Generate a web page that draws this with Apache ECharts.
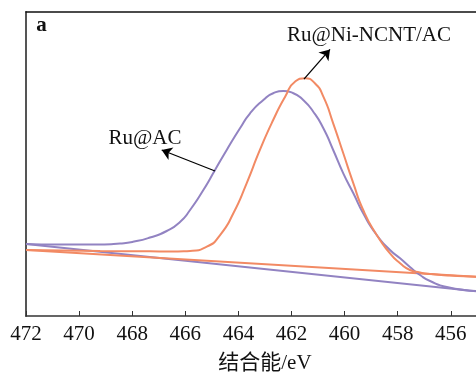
<!DOCTYPE html>
<html>
<head>
<meta charset="utf-8">
<script src="https://cdn.jsdelivr.net/npm/echarts@6/dist/echarts.min.js"></script>
<style>
  html, body { margin: 0; padding: 0; background: #fff; }
  #chart { width: 476px; height: 372px; }
</style>
</head>
<body>
<div id="chart"></div>
<script>
// binding energy (eV) / intensity (arb. units, 0-100)
const ruAcX = [472.00, 470.72, 469.21, 468.46, 467.97, 467.33, 466.70, 466.20, 465.82, 465.32, 464.88, 464.44, 463.94, 463.56, 463.06, 462.69, 462.31, 461.93, 461.56, 461.18, 460.80, 460.43, 460.05, 459.67, 459.30, 458.79, 458.29, 457.91, 457.54, 457.16, 456.78, 456.15, 455.05];
const ruAcY = [23.68, 23.49, 23.52, 23.85, 24.41, 25.82, 27.96, 30.92, 34.87, 41.45, 48.03, 54.61, 61.74, 66.68, 71.05, 73.26, 74.01, 73.26, 71.05, 67.20, 61.74, 54.61, 46.94, 40.36, 33.78, 26.64, 21.71, 18.98, 16.12, 13.49, 11.51, 9.54, 8.22];

const ruNiX = [472.00, 469.21, 467.33, 466.58, 465.82, 465.19, 464.69, 464.19, 463.69, 463.19, 462.69, 462.24, 461.87, 461.49, 461.12, 460.80, 460.43, 460.05, 459.67, 459.30, 458.79, 458.29, 457.91, 457.54, 457.16, 456.78, 456.03, 455.05];
const ruNiY = [21.71, 21.38, 21.28, 21.22, 21.40, 22.80, 26.64, 33.78, 43.65, 54.61, 64.47, 72.14, 77.07, 78.19, 76.55, 72.14, 63.39, 53.52, 43.65, 34.87, 26.64, 20.62, 17.34, 15.13, 14.31, 13.82, 13.32, 12.93];

const baseAcX = [472.00, 455.05];
const baseAcY = [23.7, 8.1];
const baseNiX = [472.00, 455.05];
const baseNiY = [21.7, 12.9];

const xTicks = [472, 470, 468, 466, 464, 462, 460, 458, 456];

const zip = (xs, ys) => xs.map((x, i) => [x, ys[i]]);

const purple = "#9283c2";
const orange = "#f28a64";
const serif = "'Liberation Serif', 'Times New Roman', serif";

const chart = echarts.init(document.getElementById("chart"));

const option = {
  animation: false,
  grid: { left: 26, top: 12, width: 477.9, height: 304, outerBoundsMode: "none", containLabel: false },
  xAxis: [
    {
      type: "value",
      min: 454,
      max: 472,
      interval: 2,
      inverse: true,
      axisLine: { lineStyle: { color: "#333", width: 1.5 } },
      axisTick: { inside: true, length: 5, lineStyle: { color: "#333", width: 1 } },
      axisLabel: {
        margin: 8,
        color: "#111",
        fontFamily: serif,
        fontSize: 21,
        hideOverlap: false,
        formatter: (v) => (xTicks.includes(v) ? String(v) : ""),
      },
      splitLine: { show: false },
      name: "结合能/eV",
      nameLocation: "middle",
      nameGap: 37,
      nameTextStyle: {
        color: "#111",
        fontSize: 21,
        fontFamily: "'Liberation Serif', 'Noto Sans CJK SC', serif",
      },
    },
    {
      type: "value",
      position: "top",
      min: 454,
      max: 472,
      inverse: true,
      axisLine: { show: true, lineStyle: { color: "#111", width: 1.5 } },
      axisTick: { show: false },
      axisLabel: { show: false },
      splitLine: { show: false },
    },
  ],
  yAxis: {
    type: "value",
    min: 0,
    max: 100,
    axisLine: { show: true, lineStyle: { color: "#555", width: 2 } },
    axisTick: { show: false },
    axisLabel: { show: false },
    splitLine: { show: false },
  },
  series: [
    {
      name: "Ru@AC base",
      type: "line",
      data: zip(baseAcX, baseAcY),
      symbol: "none",
      lineStyle: { color: purple, width: 2 },
    },
    {
      name: "Ru@Ni-NCNT/AC base",
      type: "line",
      data: zip(baseNiX, baseNiY),
      symbol: "none",
      lineStyle: { color: orange, width: 2 },
    },
    {
      name: "Ru@AC",
      type: "line",
      data: zip(ruAcX, ruAcY),
      smooth: 0.6,
      symbol: "none",
      lineStyle: { color: purple, width: 2 },
      markLine: {
        silent: true,
        symbol: ["none", "arrow"],
        symbolSize: 10,
        label: { show: false },
        lineStyle: { color: "#000", width: 1.3, type: "solid" },
        data: [[{ coord: [464.88, 47.7] }, { coord: [466.89, 54.6] }]],
      },
    },
    {
      name: "Ru@Ni-NCNT/AC",
      type: "line",
      data: zip(ruNiX, ruNiY),
      smooth: 0.6,
      symbol: "none",
      lineStyle: { color: orange, width: 2 },
      markLine: {
        silent: true,
        symbol: ["none", "arrow"],
        symbolSize: 10,
        label: { show: false },
        lineStyle: { color: "#000", width: 1.3, type: "solid" },
        data: [[{ coord: [461.53, 77.9] }, { coord: [460.55, 87.7] }]],
      },
    },
  ],
  graphic: [
    {
      type: "text",
      x: 41.5,
      y: 26,
      style: { text: "a", font: "bold 21px " + serif, fill: "#111", align: "center", verticalAlign: "middle" },
    },
    {
      type: "text",
      x: 369,
      y: 35,
      style: { text: "Ru@Ni-NCNT/AC", font: "21px " + serif, fill: "#111", align: "center", verticalAlign: "middle" },
    },
    {
      type: "text",
      x: 145,
      y: 138,
      style: { text: "Ru@AC", font: "21px " + serif, fill: "#111", align: "center", verticalAlign: "middle" },
    },
  ],
};

chart.setOption(option);
</script>
</body>
</html>
